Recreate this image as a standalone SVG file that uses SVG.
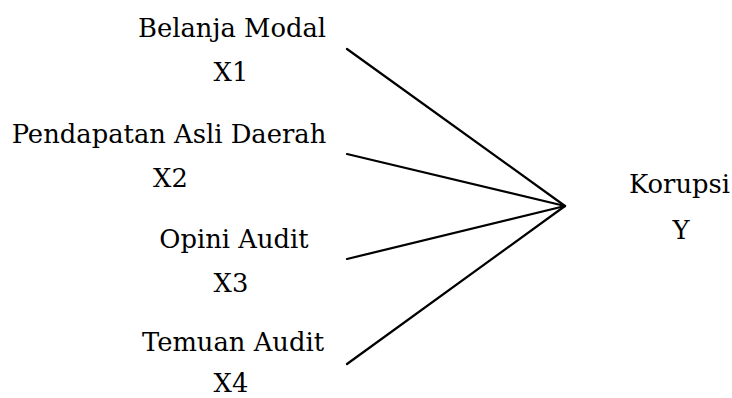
<svg xmlns="http://www.w3.org/2000/svg" width="732" height="398" viewBox="0 0 732 398">
<style>
.t{font-family:"DejaVu Serif",serif;font-size:25.8px;fill:#000;text-anchor:middle}
.c{stroke:#000;stroke-width:2.2;fill:none;stroke-linecap:round}
</style>
<rect width="732" height="398" fill="#fff"/>
<g id="connectors">
<line class="c" x1="347" y1="49" x2="565" y2="206"/>
<line class="c" x1="347" y1="154" x2="565" y2="206"/>
<line class="c" x1="347" y1="259" x2="565" y2="206"/>
<line class="c" x1="347" y1="364" x2="565" y2="206"/>
</g>
<g id="x1"><text class="t" x="232" y="37">Belanja Modal</text><text class="t" x="231" y="81">X1</text></g>
<g id="x2"><text class="t" x="169" y="143">Pendapatan Asli Daerah</text><text class="t" x="170.5" y="187">X2</text></g>
<g id="x3"><text class="t" x="234" y="248">Opini Audit</text><text class="t" x="231" y="292">X3</text></g>
<g id="x4"><text class="t" x="233" y="351">Temuan Audit</text><text class="t" x="231" y="392">X4</text></g>
<g id="y"><text class="t" x="679.5" y="193">Korupsi</text><text class="t" x="681" y="239">Y</text></g>
</svg>
